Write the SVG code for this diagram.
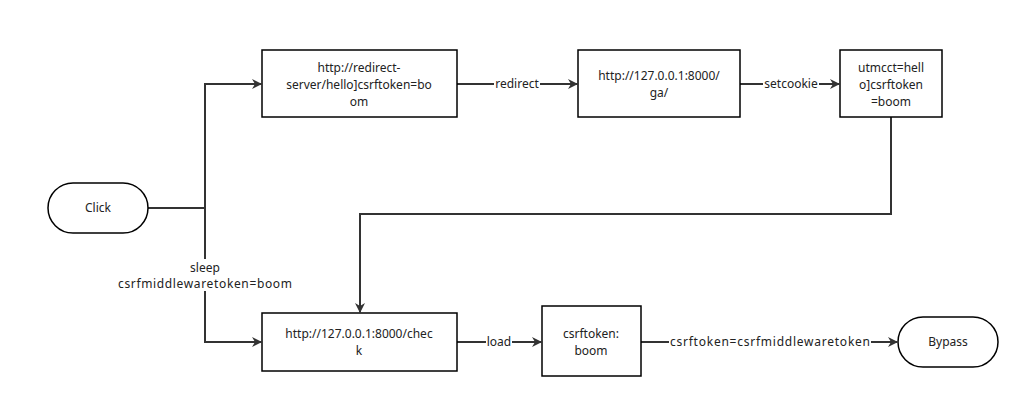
<svg xmlns="http://www.w3.org/2000/svg" width="1030" height="409" viewBox="0 0 1030 409">
<defs>
<marker id="ah" markerWidth="10" markerHeight="10" refX="9" refY="5" orient="auto" markerUnits="userSpaceOnUse"><path d="M0,0 L10,5 L0,10 L3,5 z" fill="#333"/></marker>
<style>
.n{fill:#fff;stroke:#000;stroke-width:1.5}
.t{font-family:"Noto Sans","DejaVu Sans",sans-serif;font-size:12px;fill:#222;text-anchor:middle}
.c{fill:none;stroke:#333;stroke-width:2;marker-end:url(#ah)}
.l{fill:none;stroke:#333;stroke-width:2}
.bg{fill:#fff}
</style>
</defs>
<rect width="1030" height="409" fill="#fff"/>
<g id="connectors">
<path class="l" d="M148,208 H205"/>
<path class="c" d="M205,208 V84 H261"/>
<path class="c" d="M205,208 V342 H261"/>
<path class="c" d="M457,84 H577"/>
<path class="c" d="M740,84 H839"/>
<path class="c" d="M891,117 V214 H360 V312"/>
<path class="c" d="M457,342 H541"/>
<path class="c" d="M641,342 H897"/>
<rect class="bg" x="494" y="76" width="46" height="16"/>
<text class="t" x="517" y="88">redirect</text>
<rect class="bg" x="763" y="76" width="56" height="16"/>
<text class="t" x="791" y="88">setcookie</text>
<rect class="bg" x="486" y="334" width="26" height="16"/>
<text class="t" x="499" y="346">load</text>
<rect class="bg" x="669" y="334" width="202" height="16"/>
<text class="t" x="770" y="346" textLength="200">csrftoken=csrfmiddlewaretoken</text>
<rect class="bg" x="118" y="259" width="176" height="32"/>
<text class="t" x="205" y="272">sleep</text>
<text class="t" x="205" y="288" textLength="174">csrfmiddlewaretoken=boom</text>
</g>
<g id="click"><rect class="n" x="48" y="183" width="100" height="50" rx="25"/><text class="t" x="98" y="212">Click</text></g>
<g id="redirectserver"><rect class="n" x="262" y="50" width="195" height="67"/><text class="t" x="359" y="72">http://redirect-</text><text class="t" x="359" y="89">server/hello]csrftoken=bo</text><text class="t" x="359" y="106">om</text></g>
<g id="ga"><rect class="n" x="578" y="50" width="162" height="67"/><text class="t" x="659" y="80">http://127.0.0.1:8000/</text><text class="t" x="659" y="97">ga/</text></g>
<g id="utmcct"><rect class="n" x="840" y="50" width="102" height="67"/><text class="t" x="891" y="72">utmcct=hell</text><text class="t" x="891" y="89">o]csrftoken</text><text class="t" x="891" y="106">=boom</text></g>
<g id="check"><rect class="n" x="262" y="313" width="195" height="58"/><text class="t" x="359" y="338">http://127.0.0.1:8000/chec</text><text class="t" x="359" y="355">k</text></g>
<g id="csrftoken"><rect class="n" x="542" y="306" width="99" height="70"/><text class="t" x="591" y="338">csrftoken:</text><text class="t" x="591" y="355">boom</text></g>
<g id="bypass"><rect class="n" x="898" y="317" width="100" height="50" rx="25"/><text class="t" x="948" y="346">Bypass</text></g>
</svg>
